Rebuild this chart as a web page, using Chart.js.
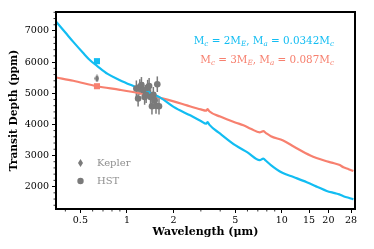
<!DOCTYPE html>
<html><head><meta charset="utf-8">
<script src="https://cdn.jsdelivr.net/npm/chart.js@4/dist/chart.umd.min.js"></script>
<style>html,body{margin:0;padding:0;background:#fff}#wrap{width:374px;height:249px}</style>
</head><body><div id="wrap"><canvas id="c" width="374" height="249"></canvas></div>
<script>
// ---- data ----
const blueWavelength = [0.35,0.40,0.45,0.52,0.58,0.64,0.75,0.90,1.10,1.30,1.64,2.0,2.56,3.0,3.25,3.32,3.4,4.0,5.0,6.0,7.2,7.6,7.9,8.5,10,12,14.5,17,19.5,22,23.5,25,27,29];
const blueDepth      = [7290,6950,6650,6300,6050,5880,5620,5420,5230,5080,4860,4560,4290,4110,4020,4070,3990,3700,3330,3100,2850,2900,2830,2690,2450,2300,2140,1990,1860,1790,1750,1690,1640,1590];
const redWavelength  = [0.35,0.45,0.64,0.90,1.2,1.64,2.0,2.44,3.0,3.25,3.32,3.4,4.0,5.0,5.65,6.3,7.2,7.6,7.9,8.5,10.2,12,15.3,19,21,23.7,25,27,29];
const redDepth       = [5505,5400,5225,5110,5000,4850,4740,4610,4480,4440,4490,4420,4250,4060,3970,3860,3740,3780,3720,3620,3480,3280,3000,2830,2770,2690,2620,2560,2500];
const bandWavelength = [0.64];
const bandBlue = [6030];
const bandRed = [5225];
const keplerWavelength = [0.64];
const keplerDepth = [5475];
const keplerErr = [90];
const hstWavelength = [1.15,1.18,1.21,1.24,1.27,1.30,1.33,1.36,1.39,1.42,1.45,1.48,1.51,1.54,1.57,1.61];
const hstDepth      = [5150,4830,5200,5260,5100,4880,4950,5180,5230,4880,4580,4950,4770,4600,5290,4580];
const hstErr        = [260,260,250,260,250,250,260,250,260,250,260,250,260,260,250,260];
const xTickValues = [0.5,1,2,5,10,15,20,28];
const xMinorValues = [0.4,0.6,0.7,0.8,0.9,3,4,6,7,8,9];
const yTickValues = [2000,3000,4000,5000,6000,7000];
const yMinorStep = 200;
const legendLabels = ['Kepler','HST'];
const X_MIN = 0.348, X_MAX = 29.7, Y_MIN = 1280, Y_MAX = 7610;

const BLUE = '#12bdf2', RED = '#f7806f', GREY = '#7a7a7a';
const SERIF = '"DejaVu Serif", serif';

function pts(xs, ys){ return xs.map((x,i)=>({x:x,y:ys[i]})); }

function diamond(w,h,color){
  const c=document.createElement('canvas'); c.width=w; c.height=h;
  const g=c.getContext('2d'); g.fillStyle=color; g.beginPath();
  g.moveTo(w/2,0); g.lineTo(w,h/2); g.lineTo(w/2,h); g.lineTo(0,h/2); g.closePath(); g.fill();
  return c;
}
const diamondImg = diamond(5,8,GREY);

const errorBars = {
  id:'errorBars',
  beforeDatasetsDraw(chart){
    const {ctx, scales:{x,y}} = chart;
    ctx.save(); ctx.strokeStyle=GREY; ctx.lineWidth=1.5;
    const draw=(xs,ys,es)=>xs.forEach((w,i)=>{
      const px=x.getPixelForValue(w);
      ctx.beginPath(); ctx.moveTo(px,y.getPixelForValue(ys[i]-es[i])); ctx.lineTo(px,y.getPixelForValue(ys[i]+es[i])); ctx.stroke();
    });
    draw(hstWavelength,hstDepth,hstErr);
    draw(keplerWavelength,keplerDepth,keplerErr);
    ctx.restore();
  }
};

function drawRuns(ctx, runs, xRight, yBase, color){
  const size=10.4, sub=7.2;
  let total=0;
  runs.forEach(r=>{ ctx.font=(r[1]?'italic ':'')+(r[1]?sub:size)+'px '+SERIF; r.w=ctx.measureText(r[0]).width; total+=r.w; });
  let x=xRight-total;
  ctx.fillStyle=color; ctx.textBaseline='alphabetic'; ctx.textAlign='left';
  runs.forEach(r=>{ ctx.font=(r[1]?'italic ':'')+(r[1]?sub:size)+'px '+SERIF; ctx.fillText(r[0],x,yBase+(r[1]?2:0)); x+=r.w; });
}

const decor = {
  id:'decor',
  afterDraw(chart){
    const {ctx, chartArea:a, scales:{x,y}} = chart;
    ctx.save();
    ctx.strokeStyle='#000'; ctx.lineWidth=2;
    ctx.strokeRect(a.left,a.top,a.right-a.left,a.bottom-a.top);
    ctx.lineWidth=0.8;
    xMinorValues.forEach(v=>{ const px=x.getPixelForValue(v); ctx.beginPath(); ctx.moveTo(px,a.bottom); ctx.lineTo(px,a.bottom+2.5); ctx.stroke(); });
    for(let v=Math.ceil(y.min/yMinorStep)*yMinorStep; v<=y.max; v+=yMinorStep){
      if(v%1000===0) continue;
      const py=y.getPixelForValue(v); ctx.beginPath(); ctx.moveTo(a.left,py); ctx.lineTo(a.left-2.5,py); ctx.stroke();
    }
    drawRuns(ctx,[['M',0],['c',1],[' = 2M',0],['E',1],[', M',0],['a',1],[' = 0.0342M',0],['c',1]],334,44,BLUE);
    drawRuns(ctx,[['M',0],['c',1],[' = 3M',0],['E',1],[', M',0],['a',1],[' = 0.087M',0],['c',1]],334,63,RED);
    ctx.drawImage(diamondImg,78,159);
    ctx.fillStyle=GREY; ctx.beginPath(); ctx.arc(80.5,181,3.2,0,Math.PI*2); ctx.fill();
    ctx.fillStyle='#8f8f8f'; ctx.font='10px '+SERIF; ctx.textBaseline='middle';
    ctx.fillText(legendLabels[0],97,163.5);
    ctx.fillText(legendLabels[1],97,181);
    ctx.restore();
  }
};

new Chart(document.getElementById('c'),{
  type:'scatter',
  data:{datasets:[
    {label:legendLabels[1], data:pts(hstWavelength,hstDepth), pointRadius:3.3, pointBackgroundColor:GREY, pointBorderWidth:0, showLine:false, order:0},
    {label:legendLabels[0], data:pts(keplerWavelength,keplerDepth), pointStyle:diamondImg, pointRadius:4, showLine:false, order:0},
    {label:'band blue', data:pts(bandWavelength,bandBlue), pointStyle:'rect', pointRadius:4.3, pointBackgroundColor:BLUE, pointBorderWidth:0, showLine:false, order:1},
    {label:'band red', data:pts(bandWavelength,bandRed), pointStyle:'rect', pointRadius:4.3, pointBackgroundColor:RED, pointBorderWidth:0, showLine:false, order:1},
    {label:'2ME', data:pts(blueWavelength,blueDepth), showLine:true, borderColor:BLUE, borderWidth:2.2, pointRadius:0, cubicInterpolationMode:'monotone', order:2},
    {label:'3ME', data:pts(redWavelength,redDepth), showLine:true, borderColor:RED, borderWidth:2.2, pointRadius:0, cubicInterpolationMode:'monotone', order:3}
  ]},
  options:{
    responsive:false, animation:false, events:[],
    layout:{padding:{top:12,right:19,left:0,bottom:0}},
    plugins:{legend:{display:false}, tooltip:{enabled:false}},
    scales:{
      x:{type:'logarithmic', min:X_MIN, max:X_MAX, bounds:'data',
        afterBuildTicks:s=>{ s.ticks=xTickValues.map(v=>({value:v})); s.min=X_MIN; s.max=X_MAX; },
        afterFit:s=>{ s.height=40; },
        ticks:{autoSkip:false, maxRotation:0, color:'#000', font:{family:SERIF,size:9.5}, padding:2, callback:v=>String(v)},
        grid:{drawOnChartArea:false, drawTicks:true, tickLength:4, color:'#000', tickWidth:1},
        border:{display:true, color:'#000', width:2},
        title:{display:true, text:'Wavelength (μm)', color:'#000', font:{family:SERIF,size:11,weight:'bold'}, padding:{top:0,bottom:10}}
      },
      y:{type:'linear', min:Y_MIN, max:Y_MAX,
        afterBuildTicks:s=>{ s.ticks=yTickValues.map(v=>({value:v})); },
        afterFit:s=>{ s.width=56; },
        ticks:{color:'#000', font:{family:SERIF,size:9.5}, padding:3, callback:v=>String(v)},
        grid:{drawOnChartArea:false, drawTicks:true, tickLength:4, color:'#000', tickWidth:1},
        border:{display:true, color:'#000', width:2},
        title:{display:true, text:'Transit Depth (ppm)', color:'#000', font:{family:SERIF,size:10.6,weight:'bold'}, padding:{top:8,bottom:0}}
      }
    }
  },
  plugins:[errorBars, decor]
});
</script></body></html>
